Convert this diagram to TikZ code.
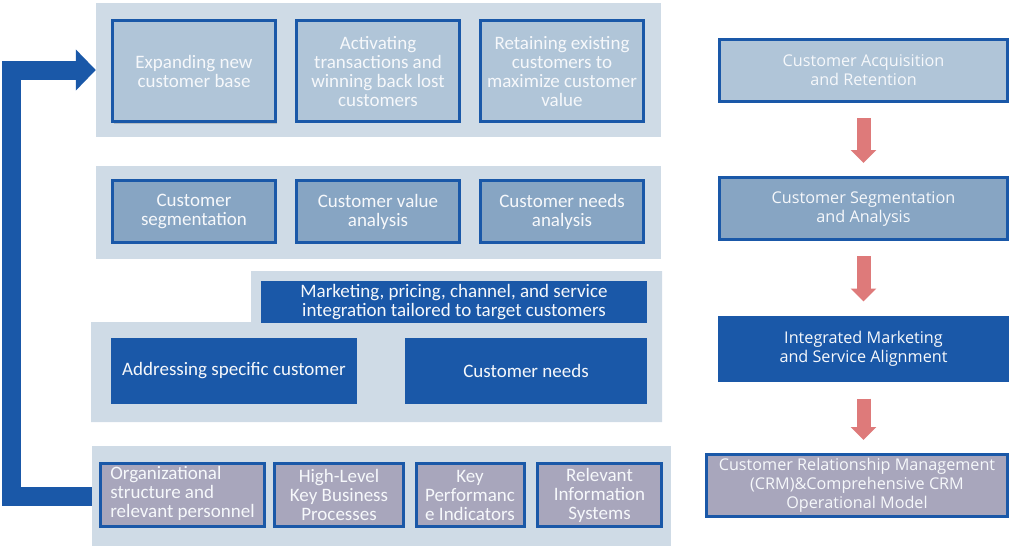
\documentclass[tikz,border=0pt]{standalone}
\usepackage{fontspec}
\setmainfont{Carlito}
\newfontfamily\rightfont{Open Sans}
\usetikzlibrary{calc,arrows.meta,shadows}

\definecolor{panelbg}{HTML}{CFDBE6}
\definecolor{lightbox}{HTML}{B0C5D8}
\definecolor{midbox}{HTML}{87A5C3}
\definecolor{darkblue}{HTML}{1A58A8}
\definecolor{greybox}{HTML}{A8A6BC}
\definecolor{redarrow}{HTML}{DE7A7A}
\definecolor{boxtext}{HTML}{F6F8FB}

\begin{document}
\begin{tikzpicture}[
  x=1pt, y=-1pt,
  panel/.style={rectangle, fill=panelbg, inner sep=0pt},
  box/.style={rectangle, draw=darkblue, line width=3pt, inner sep=0pt,
    text=boxtext, align=center, font=\fontsize{19}{19}\selectfont},
  lbox/.style={box, fill=lightbox},
  mbox/.style={box, fill=midbox},
  dbox/.style={box, fill=darkblue, draw=none},
  gbox/.style={box, fill=greybox},
  rtext/.style={font=\rightfont\fontsize{16.2}{19}\selectfont},
  bluearrow/.style={draw=darkblue, line width=19pt,
    -{Triangle[length=20pt,width=40pt]}},
  redflow/.style={draw=redarrow, line width=14pt,
    -{Triangle[length=13pt,width=25pt]}, shorten <=15pt, shorten >=13pt}
]
\useasboundingbox (0,0) rectangle (1014,550);

% background panels
\node[panel, minimum width=565, minimum height=134] (p1) at (378.5,70) {};
\node[panel, minimum width=565, minimum height=93] (p2) at (378.5,212.5) {};
\fill[panelbg] (251,271) -- (662,271) -- (662,422) -- (91,422) -- (91,322) -- (251,322) -- cycle;
\node[panel, minimum width=579, minimum height=100] (p4) at (381.5,496) {};

% top row
\node[lbox, minimum width=163, minimum height=101,
  drop shadow={shadow xshift=1pt, shadow yshift=-2pt, opacity=0.35}] (expand) at (194,71)
  {Expanding new\\customer base};
\node[lbox, minimum width=163, minimum height=101] (activate) at (378,71)
  {Activating\\transactions and\\winning back lost\\customers};
\node[lbox, minimum width=163, minimum height=101] (retain) at (562,71)
  {Retaining existing\\customers to\\maximize customer\\value};

% analysis row
\node[mbox, minimum width=163, minimum height=62] (segment) at (194,211.5)
  {Customer\\segmentation};
\node[mbox, minimum width=163, minimum height=62] (valuean) at (378,211.5)
  {Customer value\\analysis};
\node[mbox, minimum width=163, minimum height=62] (needsan) at (562,211.5)
  {Customer needs\\analysis};

% integration
\node[dbox, minimum width=386, minimum height=42] (market) at (454,302)
  {Marketing, pricing, channel, and service\\integration tailored to target customers};
\node[dbox, minimum width=246, minimum height=66] (address) at (234,371)
  {Addressing specific customer};
\node[dbox, minimum width=242, minimum height=66] (needs) at (526,371)
  {Customer needs};

% foundation row
\node[gbox, minimum width=164, minimum height=63] (org) at (182.5,495)
  {\begin{tabular}{@{}l@{}}Organizational\\structure and\\relevant personnel\end{tabular}};
\node[gbox, minimum width=129, minimum height=63] (process) at (339,495)
  {High-Level\\Key Business\\Processes};
\node[gbox, minimum width=108, minimum height=63] (kpi) at (470,495)
  {Key\\Performanc\\e Indicators};
\node[gbox, minimum width=124, minimum height=63] (infosys) at (599.5,495)
  {Relevant\\Information\\Systems};

% feedback arrow
\draw[bluearrow] (p4.west) -- ++(-80.5,0) |- (p1.west);

% right column
\node[lbox, rtext, minimum width=288, minimum height=62] (r1) at (863.5,70.5)
  {Customer Acquisition\\and Retention};
\node[mbox, rtext, minimum width=288, minimum height=62] (r2) at (863.5,208.5)
  {Customer Segmentation\\and Analysis};
\node[dbox, rtext, minimum width=291, minimum height=66] (r3) at (863.5,349)
  {Integrated Marketing\\and Service Alignment};
\node[gbox, rtext, minimum width=301, minimum height=62] (r4) at (857,485.5)
  {Customer Relationship Management\\(CRM)\&Comprehensive CRM\\Operational Model};

\draw[redflow] (r1.south) -- (r1.south |- r2.north);
\draw[redflow] (r2.south) -- (r2.south |- r3.north);
\draw[redflow] (r3.south) -- (r3.south |- r4.north);
\end{tikzpicture}
\end{document}
